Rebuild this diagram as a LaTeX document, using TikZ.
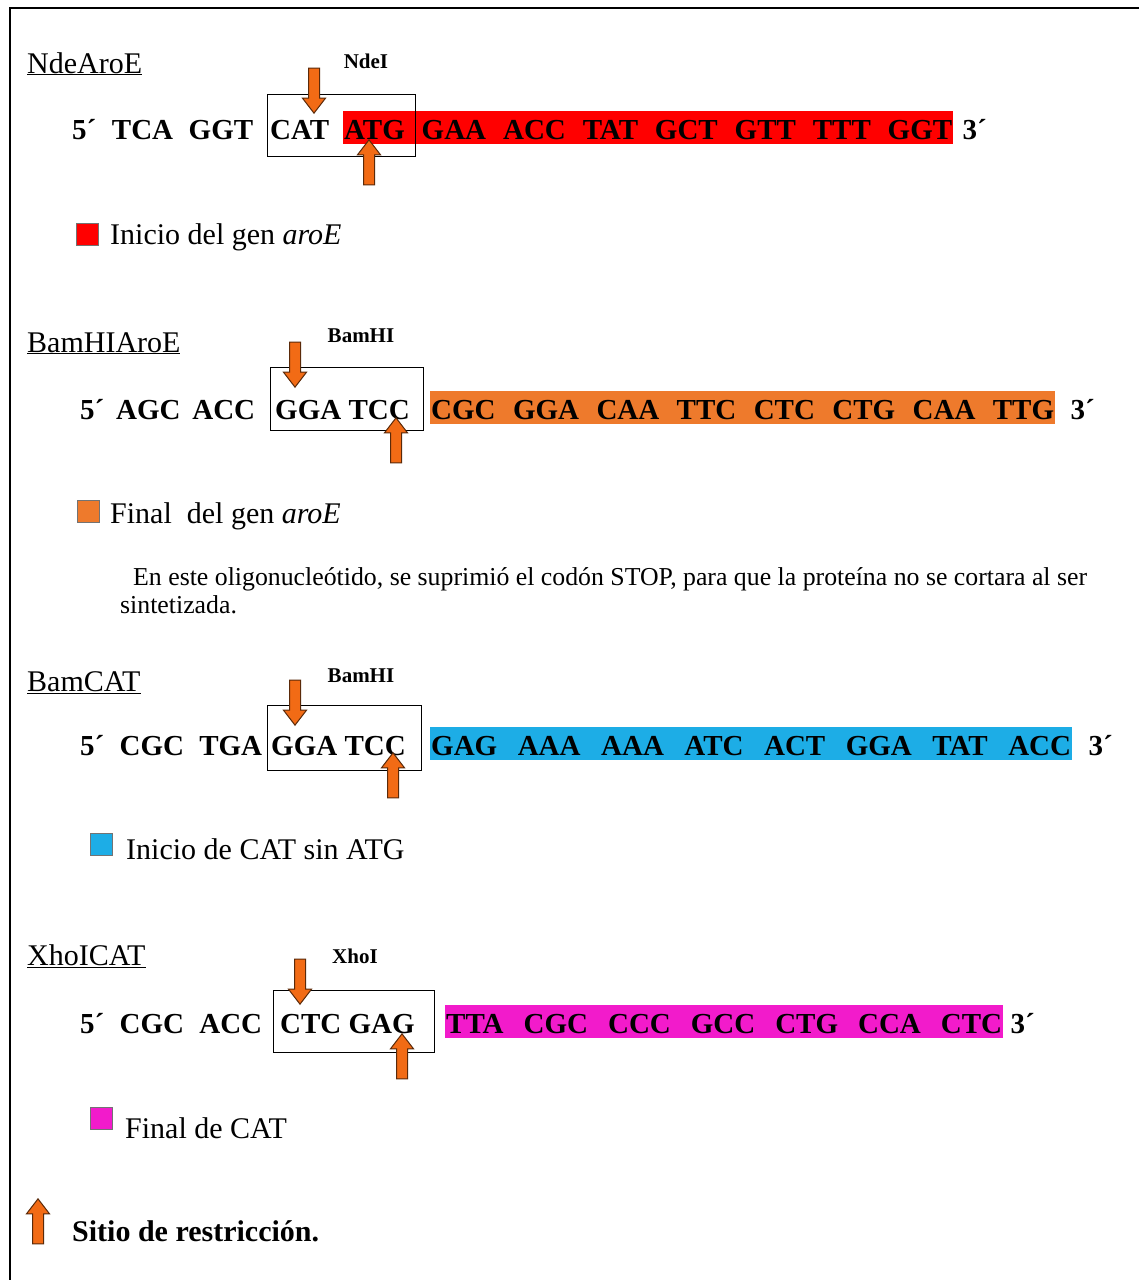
\documentclass[tikz,border=0pt]{standalone}
\usepackage{fontspec}
\setmainfont{Liberation Serif}
\usepackage{tikz}
\usetikzlibrary{shapes.arrows,positioning}

\definecolor{aroered}{HTML}{FF0000}
\definecolor{aroeorange}{HTML}{EE7A2C}
\definecolor{catblue}{HTML}{1DADE6}
\definecolor{catmagenta}{HTML}{F21BCB}
\definecolor{cutorange}{HTML}{F26B15}
\definecolor{cutedge}{HTML}{5A2A0A}

\newcommand{\spread}[2]{\makebox[#1][s]{#2}}

\begin{document}
\begin{tikzpicture}[x=1pt,y=-1pt,
	title/.style={font=\fontsize{30}{36}\selectfont,inner sep=0,anchor=base west},
	enzyme/.style={font=\fontsize{21}{25}\selectfont\bfseries,inner sep=0,anchor=base},
	seq/.style={font=\fontsize{29}{34}\selectfont\bfseries,inner sep=0,anchor=base west},
	hlbar/.style={seq,text height=25.5,text depth=2.5,inner xsep=1,inner ysep=2.5},
	sitebox/.style={draw,line width=1.2pt,inner sep=0,anchor=north west},
	legend/.style={font=\fontsize{30}{36}\selectfont,inner sep=0,anchor=base west},
	swatch/.style={draw=black!55,line width=0.8pt,minimum size=22,inner sep=0,anchor=north west},
	cutarrow/.style={single arrow,fill=cutorange,draw=cutedge,line width=1pt,inner sep=5,
		minimum height=45,single arrow head extend=6,single arrow tip angle=75,anchor=tip}]

\useasboundingbox[fill=white] (0,0) rectangle (1139,1280);
\draw[line width=2pt] (1139,8) -- (10,8) -- (10,1280);

% NdeAroE
\node[title] (t1) at (27,73) {\underline{NdeAroE}};
\node[enzyme] (e1) at (366,68) {NdeI};
\node[seq] (p1) at (72,139) {\spread{181pt}{5´ TCA GGT}};
\node[seq] (c1) at (270,139) {CAT};
\node[hlbar,fill=aroered] (h1) at (343,139) {\spread{608pt}{ATG GAA ACC TAT GCT GTT TTT GGT}};
\node[seq] (r1) at ([xshift=9pt]h1.base east) {3´};
\node[sitebox,minimum width=148,minimum height=62] (b1) at (267,94) {};
\node[cutarrow,rotate=-90] (d1) at (314,114) {};
\node[cutarrow,rotate=90] (u1) at (369,139) {};
\node[swatch,fill=aroered] (k1) at (76,223) {};
\node[legend] (l1) at (110,244) {Inicio del gen \emph{aroE}};

% BamHIAroE
\node[title] (t2) at (27,352) {\underline{BamHIAroE}};
\node[enzyme] (e2) at (361,342) {BamHI};
\node[seq] (p2) at (80,419) {\spread{175pt}{5´ AGC ACC}};
\node[seq] (c2) at (275,419) {GGA TCC};
\node[hlbar,fill=aroeorange] (h2) at (430,419) {\spread{623pt}{CGC GGA CAA TTC CTC CTG CAA TTG}};
\node[seq] (r2) at ([xshift=15pt]h2.base east) {3´};
\node[sitebox,minimum width=153,minimum height=63] (b2) at (270,367) {};
\node[cutarrow,rotate=-90] (d2) at (295,388) {};
\node[cutarrow,rotate=90] (u2) at (396,417) {};
\node[swatch,fill=aroeorange] (k2) at (77,500) {};
\node[legend] (l2) at (110,523) {Final\ \ del gen \emph{aroE}};

\node[font=\fontsize{25.8}{28}\selectfont,inner sep=0,anchor=base west,align=left] (n2) at (120,613)
	{\hspace*{13pt}En este oligonucleótido, se suprimió el codón STOP, para que la proteína no se cortara al ser\\sintetizada.};

% BamCAT
\node[title] (t3) at (27,691) {\underline{BamCAT}};
\node[enzyme] (e3) at (361,682) {BamHI};
\node[seq] (p3) at (80,755) {\spread{182pt}{5´ CGC TGA}};
\node[seq] (c3) at (271,755) {GGA TCC};
\node[hlbar,fill=catblue] (h3) at (430,755) {\spread{640pt}{GAG AAA AAA ATC ACT GGA TAT ACC}};
\node[seq] (r3) at ([xshift=16pt]h3.base east) {3´};
\node[sitebox,minimum width=154,minimum height=65] (b3) at (267,705) {};
\node[cutarrow,rotate=-90] (d3) at (295,726) {};
\node[cutarrow,rotate=90] (u3) at (393,752) {};
\node[swatch,fill=catblue] (k3) at (90,833) {};
\node[legend] (l3) at (126,859) {Inicio de CAT sin ATG};

% XhoICAT
\node[title] (t4) at (27,965) {\underline{XhoICAT}};
\node[enzyme] (e4) at (355,963) {XhoI};
\node[seq] (p4) at (80,1033) {\spread{182pt}{5´ CGC ACC}};
\node[seq] (c4) at (280,1033) {CTC GAG};
\node[hlbar,fill=catmagenta] (h4) at (445,1033) {\spread{556pt}{TTA CGC CCC GCC CTG CCA CTC}};
\node[seq] (r4) at ([xshift=7pt]h4.base east) {3´};
\node[sitebox,minimum width=161,minimum height=62] (b4) at (273,990) {};
\node[cutarrow,rotate=-90] (d4) at (300,1005) {};
\node[cutarrow,rotate=90] (u4) at (402,1033) {};
\node[swatch,fill=catmagenta] (k4) at (90,1107) {};
\node[legend] (l4) at (125,1138) {Final de CAT};

% leyenda
\node[cutarrow,rotate=90] (u5) at (38,1198) {};
\node[seq,font=\fontsize{30}{36}\selectfont\bfseries] (l5) at (72,1241) {Sitio de restricción.};

\end{tikzpicture}
\end{document}
